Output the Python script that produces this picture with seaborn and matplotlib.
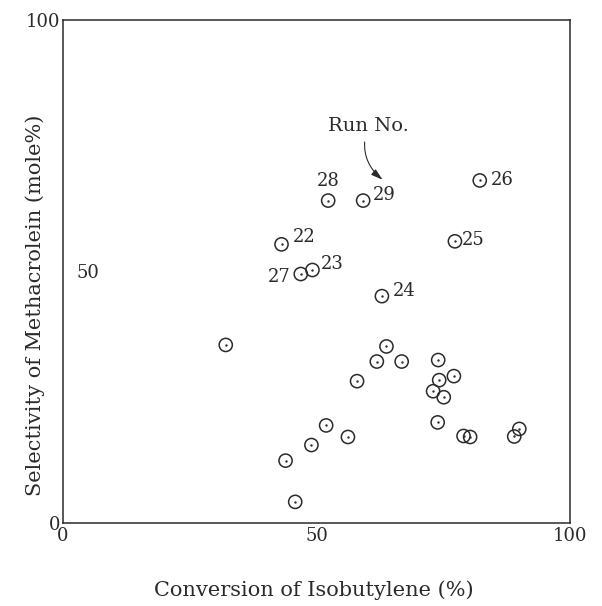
import matplotlib
matplotlib.use("Agg")
import matplotlib.pyplot as plt
import matplotlib.transforms as mtransforms
import seaborn as sns
import pandas as pd

# Conversion of isobutylene (%) and selectivity to methacrolein (mole%) per run
conversion = [82.2, 52.3, 59.2, 43.1, 77.3, 46.9, 49.2, 62.9,
              32.1, 63.8, 61.9, 66.8, 74.0, 58.0, 74.2, 77.1, 73.0, 75.1,
              73.9, 79.0, 80.3, 90.0, 89.0, 51.9, 56.2, 49.0, 43.9, 45.8]
selectivity = [68.1, 64.1, 64.1, 55.4, 56.0, 49.5, 50.3, 45.1,
               35.4, 35.1, 32.1, 32.1, 32.4, 28.2, 28.4, 29.2, 26.2, 25.0,
               20.0, 17.3, 17.1, 18.7, 17.2, 19.4, 17.1, 15.5, 12.4, 4.2]
run_no = ["26", "28", "29", "22", "25", "27", "23", "24"] + [""] * 20

x_ticks = [0, 50, 100]
y_ticks = [0, 50, 100]

df = pd.DataFrame({"conv": conversion, "sel": selectivity, "run": run_no})

ink = "#2a2a2a"
sns.set_theme(style="white")
plt.rcParams["font.family"] = ["DejaVu Serif"]

fig = plt.figure(figsize=(6.02, 6.06), dpi=100)
ax = fig.add_axes([63 / 602, 1 - 523 / 606, (570 - 63) / 602, (523 - 20) / 606])

# open circles with a centre dot
sns.scatterplot(data=df, x="conv", y="sel", ax=ax, marker="o", s=90,
                facecolor="none", edgecolor=ink, linewidth=1.1, legend=False)
sns.scatterplot(data=df, x="conv", y="sel", ax=ax, marker="o", s=3,
                color=ink, edgecolor=ink, linewidth=0, legend=False)

# run-number labels: offset in points and alignment for each labelled run
label_place = {
    "26": ((8, 0), "left", "center"),
    "28": ((0, 14), "center", "center"),
    "29": ((7, 4), "left", "center"),
    "22": ((8, 5), "left", "center"),
    "25": ((5, 1), "left", "center"),
    "23": ((6, 4), "left", "center"),
    "27": ((-7, -2), "right", "center"),
    "24": ((8, 4), "left", "center"),
}
for _, row in df[df["run"] != ""].iterrows():
    off, ha, va = label_place[row["run"]]
    ax.annotate(row["run"], (row["conv"], row["sel"]), xytext=off,
                textcoords="offset points", ha=ha, va=va,
                fontsize=13, color=ink)

# "Run No." note with an arrow toward run 29
r29 = df[df["run"] == "29"].iloc[0]
tip = mtransforms.offset_copy(ax.transData, fig=fig, x=14, y=15, units="points")
ax.annotate("Run No.", xy=(r29["conv"], r29["sel"]), xycoords=tip,
            xytext=(60.2, 79.0), textcoords="data", ha="center", va="center",
            fontsize=14, color=ink,
            arrowprops=dict(arrowstyle="-|>,head_length=0.5,head_width=0.15",
                            color=ink, lw=0.8, shrinkA=3, shrinkB=0,
                            connectionstyle="arc3,rad=0.35"))

ax.set_xlim(0, 100)
ax.set_ylim(0, 100)
ax.set_xticks(x_ticks)
ax.set_yticks(y_ticks)
ax.set_xticklabels([str(v) for v in x_ticks], fontsize=13, color=ink)
ax.set_yticklabels([str(v) for v in y_ticks], fontsize=13, color=ink)
ax.tick_params(axis="x", direction="in", length=5, width=1.0, color=ink, pad=3)
ax.tick_params(axis="y", direction="in", length=4, width=1.0, color=ink, pad=2)
# the middle y label sits inside the frame
ax.yaxis.get_major_ticks()[1].set_pad(-26)

for sp in ax.spines.values():
    sp.set_visible(True)
    sp.set_color(ink)
    sp.set_linewidth(1.1)

ax.set_xlabel("")
ax.set_ylabel("")
fig.text(314 / 602, 1 - 590 / 606, "Conversion of Isobutylene (%)",
         ha="center", va="center", fontsize=15, color=ink)
fig.text(35 / 602, 1 - 305 / 606, "Selectivity of Methacrolein (mole%)",
         ha="center", va="center", rotation=90, fontsize=15, color=ink)

fig.savefig("out.png", dpi=100, facecolor="white")
